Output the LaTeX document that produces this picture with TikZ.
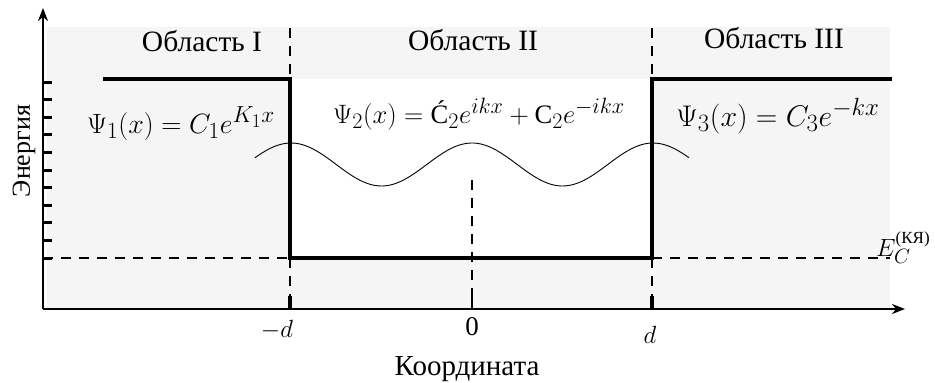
\documentclass[tikz,border=0pt]{standalone}
\usepackage{graphicx}
\usepackage{fontspec}
\setmainfont{Liberation Serif}
\usetikzlibrary{arrows.meta}
\definecolor{bgray}{RGB}{245,245,245}
\begin{document}
\begin{tikzpicture}[x=1pt,y=-1pt,
  barrier/.style={line width=3.4pt},
  axisline/.style={line width=2pt,-{Stealth[length=13pt,width=10pt,inset=4pt]}},
  dashline/.style={line width=2pt,dash pattern=on 10pt off 8pt},
  tickmark/.style={line width=3.4pt},
  wave/.style={line width=0.9pt},
  lbl/.style={font=\fontsize{29.5}{32}\selectfont,anchor=base,inner sep=0pt},
  eqn/.style={font=\fontsize{24.88}{30}\selectfont,anchor=base,inner sep=0pt}]
\useasboundingbox (0,0) rectangle (935,383);
% background
\fill[bgray] (47,27) rectangle (890,309);
\fill[white] (290,79) rectangle (652,258);
% coordinates
\coordinate (O) at (43,309);
\coordinate (Ytop) at (43,8);
\coordinate (Xend) at (905,309);
\coordinate (Lstart) at (103,79);
\coordinate (Ltop) at (290,79);
\coordinate (Lbot) at (290,258);
\coordinate (Rbot) at (652,258);
\coordinate (Rtop) at (652,79);
\coordinate (Rend) at (892,79);
\coordinate (EcL) at (43,258);
\coordinate (EcR) at (890,258);
\coordinate (mdTop) at (290,28);
\coordinate (mdBot) at (290,309);
\coordinate (pdTop) at (652,28);
\coordinate (pdBot) at (652,309);
\coordinate (zTop) at (472,180);
\coordinate (zBot) at (472,309);
% dashed lines
\draw[dashline] (mdTop) -- (Ltop);
\draw[dashline] (pdTop) -- (Rtop);
\draw[dashline] (Lbot) -- (mdBot);
\draw[dashline] (Rbot) -- (pdBot);
\draw[dashline] (zTop) -- (zBot);
\draw[dashline] (EcL) -- (Lbot);
\draw[dashline] (Rbot) -- (EcR);
% x-axis ticks
\draw[tickmark] (290,296) -- (mdBot);
\draw[line width=2.2pt] (472,296) -- (zBot);
\draw[tickmark] (652,296) -- (pdBot);
% potential
\draw[barrier] (Lstart) -- (Ltop) -- (Lbot) -- (Rbot) -- (Rtop) -- (Rend);
% wave
\draw[wave] plot[domain=-1.2:1.2,samples=120,smooth] ({472+181*\x},{164.5-21.5*cos(360*\x)});
% y ticks
\foreach \i in {0,...,10} {
  \draw[line width=3pt] (43,{82+17.6*\i}) -- (52,{82+17.6*\i});
}
% axes
\draw[axisline] (O) -- (Ytop);
\draw[axisline] (O) -- (Xend);
% labels
\node[lbl] (r1) at (202,51) {Область I};
\node[lbl] (r2) at (473,50) {Область II};
\node[lbl] (r3) at (774,48) {Область III};
\node[eqn] (psi1) at (181,133) {\scalebox{1.12}{$\Psi_1(x) = C_1e^{K_1x}$}};
\node[eqn] (psi2) at (479,123) {\scalebox{1.07}{$\Psi_2(x) = \mbox{Ć}_2e^{ikx} + \mbox{C}_2e^{-ikx}$}};
\node[eqn] (psi3) at (778,126) {\scalebox{1.2}{$\Psi_3(x) = C_3e^{-kx}$}};
\node[eqn,anchor=base west] (ec) at (876,256) {$E_C^{\mbox{\fontsize{17}{17}\selectfont(КЯ)}}$};
\node[eqn] (mdl) at (277,337) {$-d$};
\node[lbl,font=\fontsize{27}{30}\selectfont] (zl) at (472,335) {0};
\node[eqn] (pdl) at (650,343) {$d$};
\node[lbl,font=\fontsize{29}{32}\selectfont] (xl) at (467,375) {Координата};
\node[lbl,font=\fontsize{26}{30}\selectfont,rotate=90] (yl) at (30,151) {Энергия};
\end{tikzpicture}
\end{document}
